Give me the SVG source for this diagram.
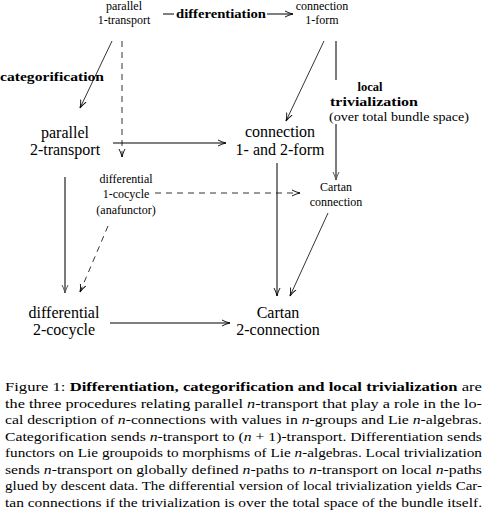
<svg xmlns="http://www.w3.org/2000/svg" width="487" height="513" viewBox="0 0 487 513" font-family="Liberation Serif, Times New Roman, Tinos, Noto Serif, DejaVu Serif, FreeSerif, serif">
<style>
text{font-family:"Liberation Serif","Times New Roman",Tinos,"Noto Serif","DejaVu Serif",FreeSerif,serif;fill:#000}
.s{font-size:12px;text-anchor:middle}
.l{font-size:16px;text-anchor:middle}
.b{font-weight:bold}
.c{font-size:13px}
.i{font-style:italic}
.ln{stroke:#000;stroke-width:1;fill:none}
.th{stroke:#000;stroke-width:0.8;fill:none}
.g{stroke:#7a7a7a;stroke-width:2;fill:none}
.d{stroke:#000;stroke-width:0.8;fill:none;stroke-dasharray:6 5}
</style>
<defs>
<marker id="ah" markerWidth="10" markerHeight="8" refX="8" refY="4" orient="auto" markerUnits="userSpaceOnUse">
<path d="M0,1 Q4,3.2 8,4 Q4,4.8 0,7" fill="none" stroke="#000" stroke-width="0.9"/>
</marker>
<marker id="ahg" markerWidth="10" markerHeight="8" refX="8" refY="4" orient="auto" markerUnits="userSpaceOnUse">
<path d="M0,1 Q4,3.2 8,4 Q4,4.8 0,7" fill="none" stroke="#555" stroke-width="1"/>
</marker>
</defs>
<g id="connectors">
<path class="ln" d="M163,14 H174"/>
<path class="ln" d="M267,14 H293" marker-end="url(#ah)"/>
<path class="th" d="M112,41 L80,108" marker-end="url(#ah)"/>
<path class="d" d="M122,41 V157" marker-end="url(#ah)"/>
<path class="ln" d="M113,143 H226" marker-end="url(#ah)"/>
<path class="th" d="M324,41 L286,121" marker-end="url(#ah)"/>
<path class="g" d="M336,41 V80"/>
<path class="g" d="M336,124 V180" marker-end="url(#ahg)"/>
<path class="d" d="M155,193 H300" marker-end="url(#ah)"/>
<path class="g" d="M65,177 V293" marker-end="url(#ahg)"/>
<path class="d" d="M108,226 L80,292" marker-end="url(#ah)"/>
<path class="th" d="M328,213 L290,296" marker-end="url(#ah)"/>
<path class="ln" d="M277,163 V296" marker-end="url(#ah)"/>
<path class="ln" d="M110,323 H230" marker-end="url(#ah)"/>
</g>
<g id="labels">
<text class="b" x="176" y="18" font-size="12" textLength="90" lengthAdjust="spacingAndGlyphs">differentiation</text>
<text class="b" x="0" y="81" font-size="12.5" textLength="104" lengthAdjust="spacingAndGlyphs">categorification</text>
<text class="b" x="370" y="91" font-size="12.5" text-anchor="middle">local</text>
<text class="b" x="330" y="106" font-size="12.5" textLength="88" lengthAdjust="spacingAndGlyphs">trivialization</text>
<text x="329" y="121" font-size="12" textLength="140" lengthAdjust="spacingAndGlyphs">(over total bundle space)</text>
</g>
<g id="n-parallel-1-transport"><text class="s" x="124" y="10">parallel</text><text class="s" x="124" y="24">1-transport</text></g>
<g id="n-connection-1-form"><text class="s" x="322" y="10">connection</text><text class="s" x="322" y="24">1-form</text></g>
<g id="n-parallel-2-transport"><text class="l" x="65" y="138">parallel</text><text class="l" x="65" y="155">2-transport</text></g>
<g id="n-connection-1-2-form"><text class="l" x="280" y="137">connection</text><text class="l" x="280" y="155">1- and 2-form</text></g>
<g id="n-differential-1-cocycle"><text class="s" x="126" y="183">differential</text><text class="s" x="126" y="198">1-cocycle</text><text class="s" x="126" y="214">(anafunctor)</text></g>
<g id="n-cartan-connection"><text class="s" x="336" y="191">Cartan</text><text class="s" x="336" y="206">connection</text></g>
<g id="n-differential-2-cocycle"><text class="l" x="64" y="318">differential</text><text class="l" x="64" y="335">2-cocycle</text></g>
<g id="n-cartan-2-connection"><text class="l" x="278" y="318">Cartan</text><text class="l" x="278" y="335">2-connection</text></g>
<g id="caption">
<text class="c" x="5" y="391" textLength="477" lengthAdjust="spacingAndGlyphs">Figure 1: <tspan class="b">Differentiation, categorification and local trivialization</tspan> are</text>
<text class="c" x="5" y="407.5" textLength="477" lengthAdjust="spacingAndGlyphs">the three procedures relating parallel <tspan class="i">n</tspan>-transport that play a role in the lo-</text>
<text class="c" x="5" y="424" textLength="477" lengthAdjust="spacingAndGlyphs">cal description of <tspan class="i">n</tspan>-connections with values in <tspan class="i">n</tspan>-groups and Lie <tspan class="i">n</tspan>-algebras.</text>
<text class="c" x="5" y="440.5" textLength="477" lengthAdjust="spacingAndGlyphs">Categorification sends <tspan class="i">n</tspan>-transport to (<tspan class="i">n</tspan> + 1)-transport.  Differentiation sends</text>
<text class="c" x="5" y="457" textLength="477" lengthAdjust="spacingAndGlyphs">functors on Lie groupoids to morphisms of Lie <tspan class="i">n</tspan>-algebras. Local trivialization</text>
<text class="c" x="5" y="473.5" textLength="477" lengthAdjust="spacingAndGlyphs">sends <tspan class="i">n</tspan>-transport on globally defined <tspan class="i">n</tspan>-paths to <tspan class="i">n</tspan>-transport on local <tspan class="i">n</tspan>-paths</text>
<text class="c" x="5" y="490" textLength="477" lengthAdjust="spacingAndGlyphs">glued by descent data. The differential version of local trivialization yields Car-</text>
<text class="c" x="5" y="506.5" textLength="477" lengthAdjust="spacingAndGlyphs">tan connections if the trivialization is over the total space of the bundle itself.</text>
</g>
</svg>
